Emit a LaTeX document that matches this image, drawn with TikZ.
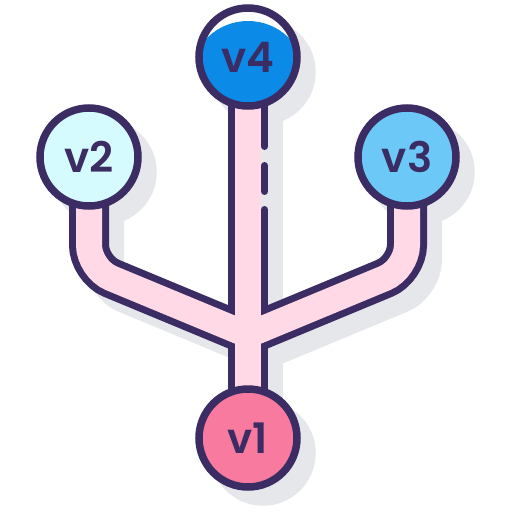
\documentclass[tikz,border=0pt]{standalone}
\usepackage{fontspec}
\setmainfont{Poppins}[BoldFont={Poppins SemiBold}]
\usetikzlibrary{backgrounds}
\definecolor{inkpurple}{HTML}{3B2C63}
\definecolor{pipepink}{HTML}{FFDAE6}
\definecolor{shadowgray}{HTML}{E6E7EA}
\definecolor{vonefill}{HTML}{F97A9F}
\definecolor{vtwofill}{HTML}{D5FBFF}
\definecolor{vthreefill}{HTML}{6CC9F7}
\definecolor{vfourfill}{HTML}{0B8AE8}
\tikzset{
	version/.style={circle, draw=inkpurple, line width=7.5pt,
		minimum size=98pt, inner sep=0pt, text=inkpurple,
		font=\fontsize{42}{42}\selectfont\bfseries},
	pipeline/.style={draw=inkpurple, line width=40pt, rounded corners=24pt},
	pipefill/.style={draw=pipepink, line width=26pt, rounded corners=24pt},
	pipeshadow/.style={draw=shadowgray, line width=40pt, rounded corners=24pt},
	dropshadow/.style={shift={(15,15)}},
	edgedash/.style={draw=inkpurple, line width=7pt, line cap=round}
}

\begin{document}
\begin{tikzpicture}[x=1pt, y=-1pt]
	\useasboundingbox (0,0) rectangle (512,512);
	
	%% versions
	\node[version, fill=vonefill] (v1) at (248,438) {v1};
	\node[version, fill=vtwofill] (v2) at (89,157) {v2};
	\node[version, fill=vthreefill] (v3) at (407,157) {v3};
	\node[version, fill=white,
	path picture={\fill[vfourfill] ([yshift=-22pt]path picture bounding box.center)
		circle[radius=58pt];}]
	(v4) at (248,57) {v4};
	
	%% bends of the branches
	\coordinate (bendL) at (89,269);
	\coordinate (bendR) at (407,269);
	\coordinate (fork) at (248,335);
	
	\begin{scope}[on background layer]
		%% shadows
		\foreach \v in {v1,v2,v3,v4}
		\fill[shadowgray] ([dropshadow]\v.center) circle[radius=52.75pt];
		\draw[pipeshadow] ([dropshadow]v2.center) -- ([dropshadow]bendL) -- ([dropshadow]fork);
		\draw[pipeshadow] ([dropshadow]v3.center) -- ([dropshadow]bendR) -- ([dropshadow]fork);
		\draw[pipeshadow] ([dropshadow]v4.center) -- ([dropshadow]v1.center);
		
		%% pipes
		\draw[pipeline] (v2.center) -- (bendL) -- (fork);
		\draw[pipeline] (v3.center) -- (bendR) -- (fork);
		\draw[pipeline] (v4.center) -- (v1.center);
		\draw[pipefill] (v2.center) -- (bendL) -- (fork);
		\draw[pipefill] (v3.center) -- (bendR) -- (fork);
		\draw[pipefill] (v4.center) -- (v1.center);
	\end{scope}
	
	%% broken edge under v4
	\fill[shadowgray] (261,146) rectangle (268.5,210);
	\draw[edgedash] (264.5,140) -- (264.5,146.5);
	\draw[edgedash] (264.5,165.5) -- (264.5,191.5);
	\draw[edgedash] (264.5,209.5) -- (264.5,216);
	
\end{tikzpicture}
\end{document}
